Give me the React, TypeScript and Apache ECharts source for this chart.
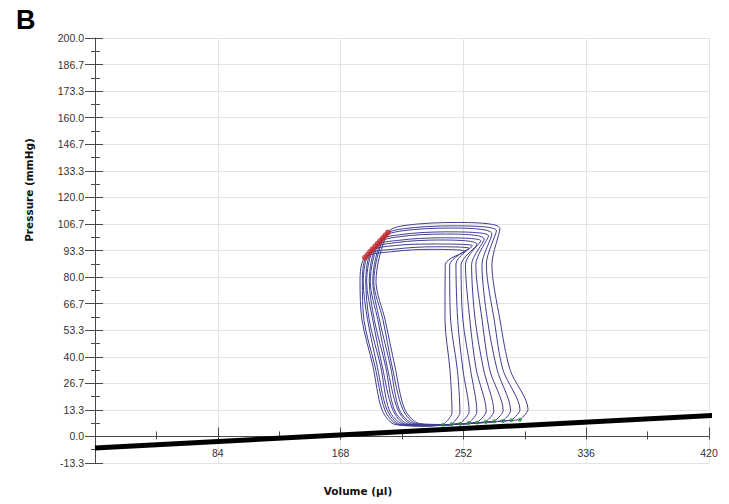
import React, { useEffect, useRef } from "react";
import * as echarts from "echarts";

// Volume (µl), Pressure (mmHg) pairs for each pressure-volume loop (inner -> outer)
const loop1 = [[238.0, 5.8], [244.2, 11.9], [242.8, 33.5], [239.4, 58.6], [239.6, 86.3], [253.1, 92.9], [229.1, 93.9], [205.2, 92.9], [184.7, 89.8], [181.3, 77.8], [182.6, 58.6], [190.2, 35.0], [196.3, 13.4], [205.2, 6.0], [225.7, 5.2], [238.0, 5.8]];
const loop2 = [[243.9, 6.1], [249.6, 11.9], [247.9, 33.1], [243.2, 58.9], [242.6, 86.0], [255.9, 94.5], [231.4, 95.2], [206.3, 94.1], [186.5, 91.2], [182.9, 78.1], [184.0, 58.2], [191.5, 35.3], [198.4, 13.1], [207.1, 6.1], [227.2, 5.3], [243.9, 6.1]];
const loop3 = [[249.7, 6.4], [255.9, 12.4], [251.6, 33.8], [248.1, 58.3], [246.9, 86.6], [258.2, 95.7], [232.7, 96.6], [206.5, 95.9], [188.2, 92.7], [183.5, 77.5], [186.4, 58.8], [193.2, 34.7], [199.6, 13.6], [209.0, 6.0], [228.7, 5.3], [249.7, 6.4]];
const loop4 = [[255.6, 6.7], [261.2, 12.3], [256.9, 33.4], [251.6, 58.7], [250.4, 86.1], [261.3, 96.5], [235.1, 98.6], [207.2, 97.4], [189.9, 94.0], [185.2, 77.9], [187.6, 58.4], [195.4, 35.2], [201.3, 13.2], [210.9, 6.1], [230.3, 5.4], [255.6, 6.7]];
const loop5 = [[261.4, 7.0], [267.6, 12.6], [260.8, 33.6], [256.4, 58.5], [253.4, 86.5], [263.9, 98.2], [236.4, 99.7], [208.5, 98.5], [191.7, 95.4], [185.8, 77.6], [189.9, 58.9], [196.6, 34.8], [203.6, 13.5], [212.8, 6.0], [231.8, 5.5], [261.4, 7.0]];
const loop6 = [[267.3, 7.3], [272.8, 12.6], [265.9, 33.3], [260.0, 58.8], [257.6, 86.2], [266.2, 99.1], [238.9, 101.6], [208.8, 100.3], [193.4, 96.8], [187.6, 78.0], [191.1, 58.4], [198.8, 35.1], [204.8, 13.3], [214.7, 6.1], [233.3, 5.6], [267.3, 7.3]];
const loop7 = [[273.1, 7.6], [279.2, 13.0], [269.9, 33.7], [264.8, 58.4], [260.5, 86.4], [269.2, 100.7], [240.3, 102.7], [210.1, 101.4], [195.2, 98.2], [188.3, 77.7], [193.4, 58.7], [199.9, 34.9], [207.1, 13.5], [216.6, 6.2], [234.8, 5.7], [273.1, 7.6]];
const loop8 = [[279.0, 7.8], [284.3, 13.0], [275.1, 33.4], [268.4, 58.7], [264.7, 86.1], [271.5, 101.7], [242.7, 104.6], [210.2, 103.2], [196.9, 99.6], [190.0, 78.0], [194.6, 58.5], [202.1, 35.2], [208.3, 13.2], [218.5, 6.3], [236.4, 5.8], [279.0, 7.8]];
const loop9 = [[284.8, 8.1], [290.7, 13.4], [279.0, 33.6], [273.1, 58.4], [267.7, 86.5], [274.6, 103.3], [244.0, 105.7], [211.6, 104.3], [198.6, 101.0], [190.7, 77.6], [196.9, 58.8], [203.3, 34.8], [210.6, 13.5], [220.4, 6.3], [237.9, 5.9], [284.8, 8.1]];
const loop10 = [[290.7, 8.4], [296.2, 13.6], [283.9, 33.5], [277.0, 58.6], [271.5, 86.3], [277.0, 104.4], [246.2, 107.4], [212.0, 105.9], [200.4, 102.4], [192.2, 77.8], [198.4, 58.6], [205.2, 35.0], [212.0, 13.4], [222.3, 6.4], [239.4, 6.0], [290.7, 8.4]];
const loops = [loop1, loop2, loop3, loop4, loop5, loop6, loop7, loop8, loop9, loop10];

// End-systolic (red) and end-diastolic (green) points of each loop
const espIndex = 8;
const edvIndex = 0;

// Thick black linear relation line (extends past the right edge of the plot)
const baselinePoints = [[0, -5.8], [434, 11.0]];

// Axis scales
const xTicks = [0, 84, 168, 252, 336, 420];
const yMin = -40 / 3;
const yMax = 200;
const yStep = 40 / 3;

export default function App() {
  const ref = useRef<HTMLDivElement>(null);

  useEffect(() => {
    if (!ref.current) return;
    const chart = echarts.init(ref.current, undefined, { renderer: "svg" });
    const axisColor = "#4a4a4a";
    const gridColor = "#e3e3e3";
    const labelFont = { fontSize: 10.5, color: "#333", fontFamily: "Arial, Liberation Sans, sans-serif" };

    const espPoints = loops.map((l) => l[espIndex]);
    const edvPoints = loops.map((l) => l[edvIndex]);

    const loopSeries = loops.map((l, i) => ({
      type: "line",
      name: "loop" + (i + 1),
      data: l,
      smooth: 0.3,
      symbol: "none",
      silent: true,
      z: 2,
      lineStyle: { color: "#3e3e92", width: 1 },
    }));

    chart.setOption({
      animation: false,
      backgroundColor: "#ffffff",
      grid: { left: 95, right: 20, top: 38, bottom: 41, containLabel: false, outerBoundsMode: "none" },
      xAxis: [
        {
          type: "value",
          min: xTicks[0],
          max: xTicks[xTicks.length - 1],
          interval: xTicks[1] - xTicks[0],
          position: "bottom",
          axisLine: { show: true, onZero: true, lineStyle: { color: axisColor, width: 1 } },
          axisTick: { show: true, inside: true, length: 9, lineStyle: { color: axisColor } },
          minorTick: { show: true, splitNumber: 2, length: 5, lineStyle: { color: axisColor } },
          axisLabel: { ...labelFont, margin: -16, formatter: (v: number) => (v === 0 ? "" : String(v)) },
          splitLine: { show: true, lineStyle: { color: gridColor, width: 1 } },
        },
        {
          type: "value",
          min: xTicks[0],
          max: xTicks[xTicks.length - 1],
          interval: xTicks[1] - xTicks[0],
          position: "bottom",
          axisLine: { show: true, onZero: true, lineStyle: { color: axisColor, width: 1 } },
          axisTick: { show: true, inside: false, length: 3, lineStyle: { color: axisColor } },
          minorTick: { show: true, splitNumber: 2, length: 3, lineStyle: { color: axisColor } },
          axisLabel: { show: false },
          splitLine: { show: false },
        },
      ],
      yAxis: [
        {
          type: "value",
          min: yMin,
          max: yMax,
          interval: yStep,
          position: "left",
          axisLine: { show: true, onZero: false, lineStyle: { color: axisColor, width: 1 } },
          axisTick: { show: true, inside: false, length: 10, lineStyle: { color: axisColor } },
          minorTick: { show: true, splitNumber: 2, length: 4, lineStyle: { color: axisColor } },
          axisLabel: { ...labelFont, margin: 11, formatter: (v: number) => v.toFixed(1) },
          splitLine: { show: true, lineStyle: { color: gridColor, width: 1 } },
        },
        {
          type: "value",
          min: yMin,
          max: yMax,
          interval: yStep,
          position: "left",
          axisLine: { show: false, onZero: false },
          axisTick: { show: true, inside: true, length: 8, lineStyle: { color: axisColor } },
          minorTick: { show: true, splitNumber: 2, length: 5, lineStyle: { color: axisColor } },
          axisLabel: { show: false },
          splitLine: { show: false },
        },
      ],
      graphic: [
        {
          type: "text",
          x: 16,
          y: 19.5,
          silent: true,
          style: { text: "B", font: "bold 27px Arial, Liberation Sans, sans-serif", fill: "#000", textAlign: "left", textVerticalAlign: "middle" },
        },
        {
          type: "text",
          x: 29,
          y: 190,
          rotation: Math.PI / 2,
          silent: true,
          style: { text: "Pressure (mmHg)", font: "bold 10.5px DejaVu Sans, sans-serif", fill: "#111", textAlign: "center", textVerticalAlign: "middle" },
        },
        {
          type: "text",
          x: 358,
          y: 491,
          silent: true,
          style: { text: "Volume (µl)", font: "bold 10.5px DejaVu Sans, sans-serif", fill: "#111", textAlign: "center", textVerticalAlign: "middle" },
        },
      ],
      series: [
        ...loopSeries,
        {
          type: "line",
          name: "baseline",
          data: baselinePoints,
          symbol: "none",
          clip: false,
          silent: true,
          z: 3,
          lineStyle: { color: "#000", width: 5 },
        },
        {
          type: "scatter",
          name: "esp",
          data: espPoints,
          symbol: "circle",
          symbolSize: 6,
          silent: true,
          z: 4,
          itemStyle: { color: "#c92a2a" },
        },
        {
          type: "scatter",
          name: "edv",
          data: edvPoints,
          symbol: "circle",
          symbolSize: 4,
          silent: true,
          z: 4,
          itemStyle: { color: "#2e8a3e" },
        },
      ],
    });
    return () => chart.dispose();
  }, []);

  return <div ref={ref} style={{ position: "absolute", left: 0, top: 0, width: 729, height: 504 }} />;
}
